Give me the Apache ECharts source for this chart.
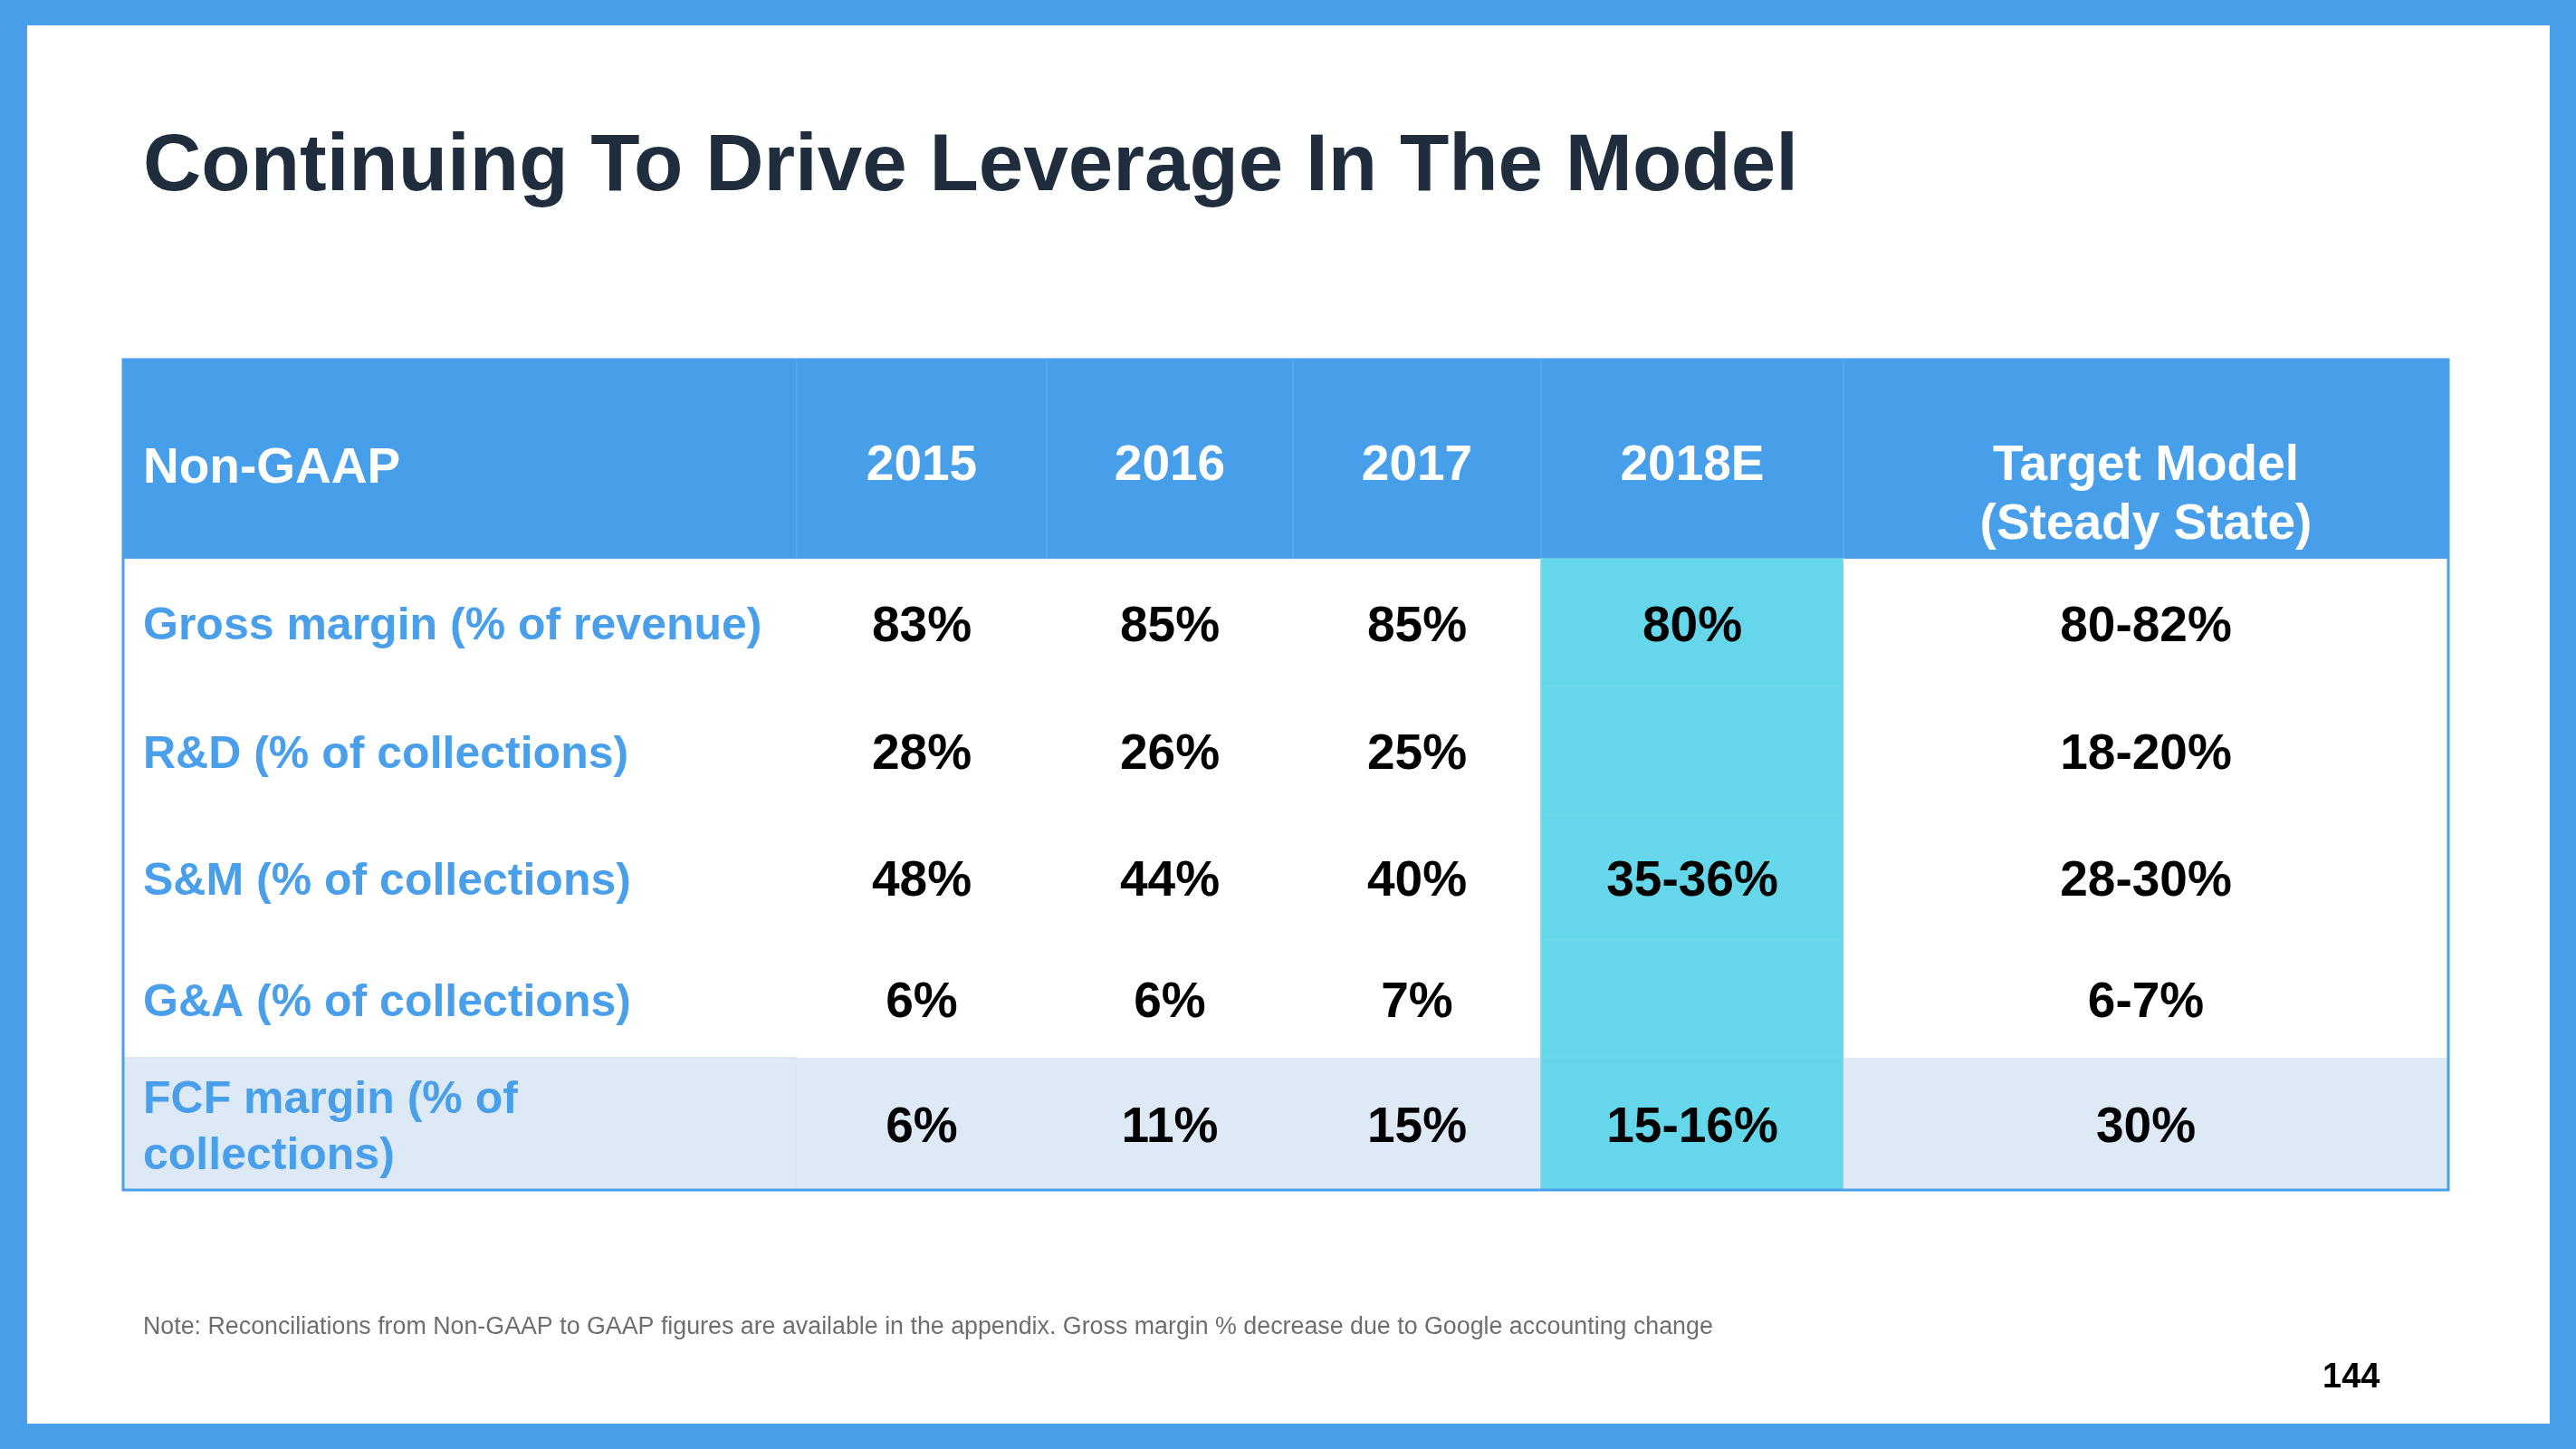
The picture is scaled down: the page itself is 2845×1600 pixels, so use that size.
<!DOCTYPE html>
<html>
<head>
<meta charset="utf-8">
<script src="https://cdn.jsdelivr.net/npm/echarts@6/dist/echarts.min.js"></script>
<style>
html,body{margin:0;padding:0;background:#fff;}
#main{width:2845px;height:1600px;}
</style>
</head>
<body>
<div id="main"></div>
<script>
// ---- data ----
const headerLabels = ['Non-GAAP', '2015', '2016', '2017', '2018E', 'Target Model\n(Steady State)'];
const rowLabels = ['Gross margin (% of revenue)', 'R&D (% of collections)', 'S&M (% of collections)', 'G&A (% of collections)', 'FCF margin (% of\ncollections)'];
const values2015 = ['83%', '28%', '48%', '6%', '6%'];
const values2016 = ['85%', '26%', '44%', '6%', '11%'];
const values2017 = ['85%', '25%', '40%', '7%', '15%'];
const values2018E = ['80%', '', '35-36%', '', '15-16%'];
const valuesTarget = ['80-82%', '18-20%', '28-30%', '6-7%', '30%'];
const titleText = 'Continuing To Drive Leverage In The Model';
const noteText = 'Note: Reconciliations from Non-GAAP to GAAP figures are available in the appendix. Gross margin % decrease due to Google accounting change';
const pageNumber = '144';

// ---- layout (relative column / row sizes) ----
const colWeights = [744, 276, 272, 274, 334, 668];
const rowWeights = [220, 141, 142, 138, 130, 146];
const colEdges = [0]; colWeights.forEach(w => colEdges.push(colEdges[colEdges.length - 1] + w));
const rowEdges = [0]; rowWeights.forEach(h => rowEdges.push(rowEdges[rowEdges.length - 1] + h));
const valueCols = [values2015, values2016, values2017, values2018E, valuesTarget];

const FONT = '"Liberation Sans", Arial, Helvetica, sans-serif';
const BLUE = '#479FEA';
const CYAN = '#66D7EA';
const PALE = '#DDE9F5';

const cells = [];
for (let r = 0; r < rowWeights.length; r++) {
  for (let c = 0; c < colWeights.length; c++) cells.push([c, r]);
}

function renderCell(params, api) {
  const c = api.value(0), r = api.value(1);
  const p0 = api.coord([colEdges[c], rowEdges[r]]);
  const p1 = api.coord([colEdges[c + 1], rowEdges[r + 1]]);
  const x = p0[0], y = p0[1], w = p1[0] - p0[0], h = p1[1] - p0[1];
  let fill = '#ffffff', stroke = null, text = '', color = '#000', size = 55, align = 'center', tx = x + w / 2, ty = y + h / 2 + 5, va = 'middle', lh = 62;
  if (r === 0) {
    fill = BLUE; stroke = '#5BAAEE';
    text = headerLabels[c]; color = '#ffffff'; size = 55; lh = 65;
    va = 'top'; ty = y + 118 - lh / 2;
    if (c === 0) { align = 'left'; tx = x + 22; ty = y + 121 - lh / 2; }
  } else {
    if (r === 5) fill = PALE;
    if (c === 4) { fill = CYAN; stroke = '#6FDAEC'; }
    if (c === 0) {
      text = rowLabels[r - 1]; color = '#4A9FEA'; size = 50; align = 'left'; tx = x + 22;
      if (r === 5) stroke = '#D6E4F3';
    } else {
      text = valueCols[c - 1][r - 1];
    }
  }
  const children = [{
    type: 'rect',
    shape: { x: x, y: y, width: w, height: h },
    style: { fill: fill, stroke: stroke, lineWidth: stroke ? 1.5 : 0 }
  }];
  if (text) {
    children.push({
      type: 'text',
      style: {
        text: text, x: tx, y: ty, align: align, verticalAlign: va,
        fill: color, font: 'bold ' + size + 'px ' + FONT, lineHeight: lh
      }
    });
  }
  return { type: 'group', children: children };
}

function renderFrame(params, api) {
  const p0 = api.coord([colEdges[0], rowEdges[0]]);
  const p1 = api.coord([colEdges[colEdges.length - 1], rowEdges[rowEdges.length - 1]]);
  return {
    type: 'rect',
    shape: { x: p0[0], y: p0[1], width: p1[0] - p0[0], height: p1[1] - p0[1] },
    style: { fill: null, stroke: '#4A9FEA', lineWidth: 3 }
  };
}

const chart = echarts.init(document.getElementById('main'), null, { renderer: 'canvas' });
chart.setOption({
  backgroundColor: BLUE,
  animation: false,
  title: {
    text: titleText, left: 158, top: 141, padding: 0,
    textStyle: { fontSize: 89, fontWeight: 'bold', color: '#1F2D3D', fontFamily: FONT }
  },
  graphic: [
    { type: 'rect', left: 30, top: 28, shape: { width: 2786, height: 1544 }, style: { fill: '#ffffff' }, z: -10 },
    { type: 'text', left: 158, top: 1452, style: { text: noteText, fill: '#6E6E6E', font: '26.8px ' + FONT } },
    { type: 'text', left: 2565, top: 1503, style: { text: pageNumber, fill: '#000000', font: 'bold 38px ' + FONT } }
  ],
  grid: { left: 136, top: 397, width: 2568, height: 917, show: false },
  xAxis: { type: 'value', min: 0, max: colEdges[colEdges.length - 1], show: false },
  yAxis: { type: 'value', min: 0, max: rowEdges[rowEdges.length - 1], inverse: true, show: false },
  series: [
    { type: 'custom', name: 'table', renderItem: renderCell, data: cells, z: 2 },
    { type: 'custom', name: 'frame', renderItem: renderFrame, data: [[0, 0]], z: 3, silent: true }
  ]
});
</script>
</body>
</html>
